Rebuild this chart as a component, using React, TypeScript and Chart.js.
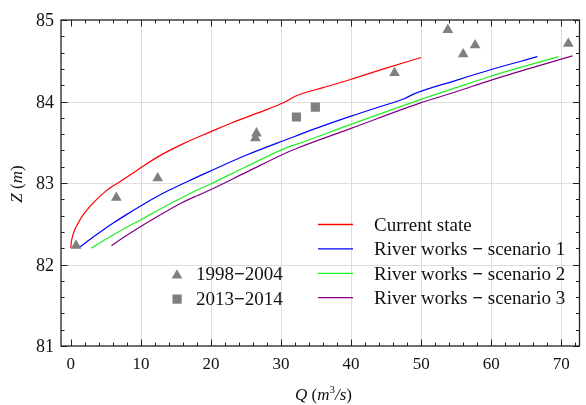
import React, { useEffect, useRef } from 'react';
import { Chart, registerables } from 'chart.js';

Chart.register(...registerables);

// Rating curves: discharge Q (m³/s) against water level Z (m)
const currentQ = [0.0, 0.05, 0.15, 0.3, 0.57, 1.0, 1.6, 2.4, 3.6, 5.0, 6.9, 8.5, 10.2, 12.6, 16.0, 20.0, 23.0, 26.7, 30.5, 32.2, 36.0, 39.9, 45.0, 50.0];
const currentZ = [82.2, 82.26, 82.31, 82.36, 82.43, 82.5, 82.59, 82.68, 82.79, 82.9, 83.01, 83.1, 83.2, 83.33, 83.48, 83.63, 83.74, 83.86, 83.99, 84.07, 84.17, 84.27, 84.41, 84.54];

const scen1Q = [1.1, 2.0, 3.0, 4.3, 6.0, 8.0, 10.2, 11.6, 14.0, 17.3, 20.0, 25.0, 31.0, 35.0, 40.0, 45.0, 47.5, 48.9, 55.0, 59.9, 66.6];
const scen1Z = [82.2, 82.26, 82.325, 82.405, 82.505, 82.615, 82.73, 82.8, 82.91, 83.045, 83.15, 83.34, 83.54, 83.67, 83.82, 83.96, 84.03, 84.09, 84.26, 84.39, 84.55];

const scen2Q = [2.9, 5.0, 7.4, 10.0, 12.0, 14.5, 15.4, 18.2, 20.0, 25.0, 31.0, 32.4, 40.0, 49.8, 55.0, 59.9, 69.6];
const scen2Z = [82.2, 82.31, 82.43, 82.55, 82.645, 82.76, 82.8, 82.92, 82.99, 83.2, 83.44, 83.48, 83.72, 84.02, 84.17, 84.31, 84.55];

const scen3Q = [5.8, 7.5, 9.3, 12.0, 15.9, 16.6, 18.2, 20.0, 25.0, 31.0, 32.4, 40.0, 49.8, 55.0, 59.9, 71.6];
const scen3Z = [82.23, 82.33, 82.43, 82.57, 82.76, 82.79, 82.85, 82.92, 83.13, 83.38, 83.43, 83.67, 83.98, 84.12, 84.26, 84.56];

// Observed stage-discharge pairs
const obs1998Q = [0.75, 6.5, 12.4, 26.5, 26.35, 46.2, 53.8, 56.0, 57.7, 71.0];
const obs1998Z = [82.23, 82.82, 83.06, 83.61, 83.55, 84.35, 84.88, 84.58, 84.69, 84.71];

const obs2013Q = [32.2, 34.9];
const obs2013Z = [83.81, 83.93];

const xMajorTicks = [0, 10, 20, 30, 40, 50, 60, 70];
const yMajorTicks = [81, 82, 83, 84, 85];

const seriesNames = ['Current state', 'River works \u2212 scenario 1', 'River works \u2212 scenario 2', 'River works \u2212 scenario 3'];
const seriesColors = ['#ff0000', '#0000ff', '#22ee22', '#800080'];
const obsNames = ['1998\u22122004', '2013\u22122014'];

const SERIF = '"Liberation Serif", "Times New Roman", serif';
const MARKER = '#7f7f7f';

const toPoints = (q: number[], z: number[]) => q.map((v, i) => ({ x: v, y: z[i] }));

function drawTriangle(ctx: CanvasRenderingContext2D, x: number, y: number, r: number) {
  ctx.beginPath();
  ctx.moveTo(x, y - r);
  ctx.lineTo(x + r * Math.sin((2 * Math.PI) / 3), y - r * Math.cos((2 * Math.PI) / 3));
  ctx.lineTo(x + r * Math.sin((4 * Math.PI) / 3), y - r * Math.cos((4 * Math.PI) / 3));
  ctx.closePath();
  ctx.fill();
}

type Run = { t: string; f: string; dy?: number };

// Draws text made of runs with their own style, starting at x.
function drawRuns(ctx: CanvasRenderingContext2D, runs: Run[], x: number, y: number) {
  let cx = x;
  for (const r of runs) {
    ctx.font = r.f;
    ctx.fillText(r.t, cx, y + (r.dy || 0));
    cx += ctx.measureText(r.t).width;
  }
  return cx - x;
}
function runsWidth(ctx: CanvasRenderingContext2D, runs: Run[]) {
  let w = 0;
  for (const r of runs) {
    ctx.font = r.f;
    w += ctx.measureText(r.t).width;
  }
  return w;
}

// Legend labels: the minus sign is set heavier than the rest of the text
function labelRuns(label: string, size: number): Run[] {
  const reg = `${size}px ${SERIF}`;
  const bold = `bold ${size}px ${SERIF}`;
  const parts = label.split('\u2212');
  const runs: Run[] = [];
  parts.forEach((p, i) => {
    if (i > 0) runs.push({ t: '\u2212', f: bold });
    if (p) runs.push({ t: p, f: reg });
  });
  return runs;
}

const gridPlugin = {
  id: 'gridBehind',
  beforeDatasetsDraw(chart: any) {
    const { ctx, chartArea: a, scales } = chart;
    const xs = scales.x, ys = scales.y;
    ctx.save();
    ctx.strokeStyle = '#dddddd';
    ctx.lineWidth = 1;
    for (const v of xMajorTicks) {
      if (v === 0) continue;
      const px = Math.round(xs.getPixelForValue(v)) + 0.5;
      ctx.beginPath();
      ctx.moveTo(px, a.top);
      ctx.lineTo(px, a.bottom);
      ctx.stroke();
    }
    for (const v of yMajorTicks) {
      if (v === 81 || v === 85) continue;
      const py = Math.round(ys.getPixelForValue(v)) + 0.5;
      ctx.beginPath();
      ctx.moveTo(a.left, py);
      ctx.lineTo(a.right, py);
      ctx.stroke();
    }
    ctx.restore();
  },
};

const framePlugin = {
  id: 'frameAndLabels',
  afterDatasetsDraw(chart: any) {
    const { ctx, chartArea: a, scales } = chart;
    const xs = scales.x, ys = scales.y;
    ctx.save();
    // frame
    ctx.strokeStyle = '#222';
    ctx.lineWidth = 1.3;
    ctx.strokeRect(a.left, a.top, a.right - a.left, a.bottom - a.top);

    // inward ticks on all four sides
    ctx.lineWidth = 1;
    const tick = (x1: number, y1: number, x2: number, y2: number) => {
      ctx.beginPath();
      ctx.moveTo(x1, y1);
      ctx.lineTo(x2, y2);
      ctx.stroke();
    };
    for (let v = 0; v <= 72; v += 2) {
      const major = v % 10 === 0;
      const len = major ? 6.5 : 3.5;
      const px = Math.round(xs.getPixelForValue(v)) + 0.5;
      tick(px, a.bottom, px, a.bottom - len);
      tick(px, a.top, px, a.top + len);
    }
    for (let i = 0; i <= 20; i++) {
      const v = 81 + i * 0.2;
      const major = i % 5 === 0;
      const len = major ? 6.5 : 3.5;
      const py = Math.round(ys.getPixelForValue(v)) + 0.5;
      tick(a.left, py, a.left + len, py);
      tick(a.right, py, a.right - len, py);
    }

    // tick labels
    ctx.fillStyle = '#111';
    ctx.font = `17px ${SERIF}`;
    ctx.textAlign = 'center';
    ctx.textBaseline = 'alphabetic';
    for (const v of xMajorTicks) {
      ctx.fillText(String(v), xs.getPixelForValue(v), a.bottom + 23);
    }
    ctx.textAlign = 'right';
    ctx.font = `18px ${SERIF}`;
    for (const v of yMajorTicks) {
      ctx.fillText(String(v), a.left - 7, ys.getPixelForValue(v) + 6);
    }

    // axis titles
    ctx.textAlign = 'left';
    const it = `italic 17px ${SERIF}`;
    const rg = `17px ${SERIF}`;
    const sup = `11px ${SERIF}`;
    const xRuns: Run[] = [
      { t: 'Q', f: it },
      { t: ' (', f: rg },
      { t: 'm', f: it },
      { t: '3', f: sup, dy: -7 },
      { t: '/', f: it },
      { t: 's', f: it },
      { t: ')', f: rg },
    ];
    drawRuns(ctx, xRuns, 295, 400);

    const yRuns: Run[] = [
      { t: 'Z', f: it },
      { t: ' (', f: rg },
      { t: 'm', f: it },
      { t: ')', f: rg },
    ];
    const yw = runsWidth(ctx, yRuns);
    ctx.save();
    ctx.translate(22, 184);
    ctx.rotate(-Math.PI / 2);
    drawRuns(ctx, yRuns, -yw / 2, 0);
    ctx.restore();

    // line legend
    ctx.lineWidth = 1.3;
    seriesNames.forEach((name, i) => {
      const y = 224 + i * 24.4;
      ctx.strokeStyle = seriesColors[i];
      ctx.beginPath();
      ctx.moveTo(318, y + 0.5);
      ctx.lineTo(353, y + 0.5);
      ctx.stroke();
      ctx.fillStyle = '#111';
      drawRuns(ctx, labelRuns(name, 19), 374, y + 7);
    });

    // marker legend
    ctx.fillStyle = MARKER;
    drawTriangle(ctx, 177, 275.5, 6.2);
    ctx.fillRect(172.5, 294.5, 9.2, 9.2);
    ctx.fillStyle = '#111';
    drawRuns(ctx, labelRuns(obsNames[0], 19), 196, 280);
    drawRuns(ctx, labelRuns(obsNames[1], 19), 196, 304.5);

    ctx.restore();
  },
};

export default function App() {
  const canvasRef = useRef<HTMLCanvasElement | null>(null);

  useEffect(() => {
    const canvas = canvasRef.current;
    if (!canvas) return;
    const lineDs = (label: string, q: number[], z: number[], color: string) => ({
      label,
      data: toPoints(q, z),
      showLine: true,
      borderColor: color,
      backgroundColor: color,
      borderWidth: 1.2,
      pointRadius: 0,
      cubicInterpolationMode: 'monotone' as const,
      order: 2,
    });
    const chart = new Chart(canvas, {
      type: 'scatter',
      data: {
        datasets: [
          {
            label: obsNames[0],
            data: toPoints(obs1998Q, obs1998Z),
            pointStyle: 'triangle',
            pointRadius: 6.2,
            pointHoverRadius: 6.2,
            backgroundColor: MARKER,
            borderWidth: 0,
            order: 0,
          },
          {
            label: obsNames[1],
            data: toPoints(obs2013Q, obs2013Z),
            pointStyle: 'rect',
            pointRadius: 6.5,
            pointHoverRadius: 6.5,
            backgroundColor: MARKER,
            borderWidth: 0,
            order: 0,
          },
          lineDs(seriesNames[0], currentQ, currentZ, seriesColors[0]),
          lineDs(seriesNames[1], scen1Q, scen1Z, seriesColors[1]),
          lineDs(seriesNames[2], scen2Q, scen2Z, seriesColors[2]),
          lineDs(seriesNames[3], scen3Q, scen3Z, seriesColors[3]),
        ] as any,
      },
      options: {
        responsive: false,
        animation: false,
        devicePixelRatio: 1,
        layout: { padding: { left: 61, top: 20, right: 2, bottom: 59 } },
        plugins: { legend: { display: false }, tooltip: { enabled: false } },
        scales: {
          x: { type: 'linear', min: -1.4, max: 72.6, display: false },
          y: { type: 'linear', min: 81, max: 85, display: false },
        },
      },
      plugins: [gridPlugin, framePlugin],
    });
    return () => chart.destroy();
  }, []);

  return (
    <div style={{ position: 'fixed', left: 0, top: 0, width: 586, height: 405, background: '#fff' }}>
      <canvas ref={canvasRef} width={586} height={405} />
    </div>
  );
}
